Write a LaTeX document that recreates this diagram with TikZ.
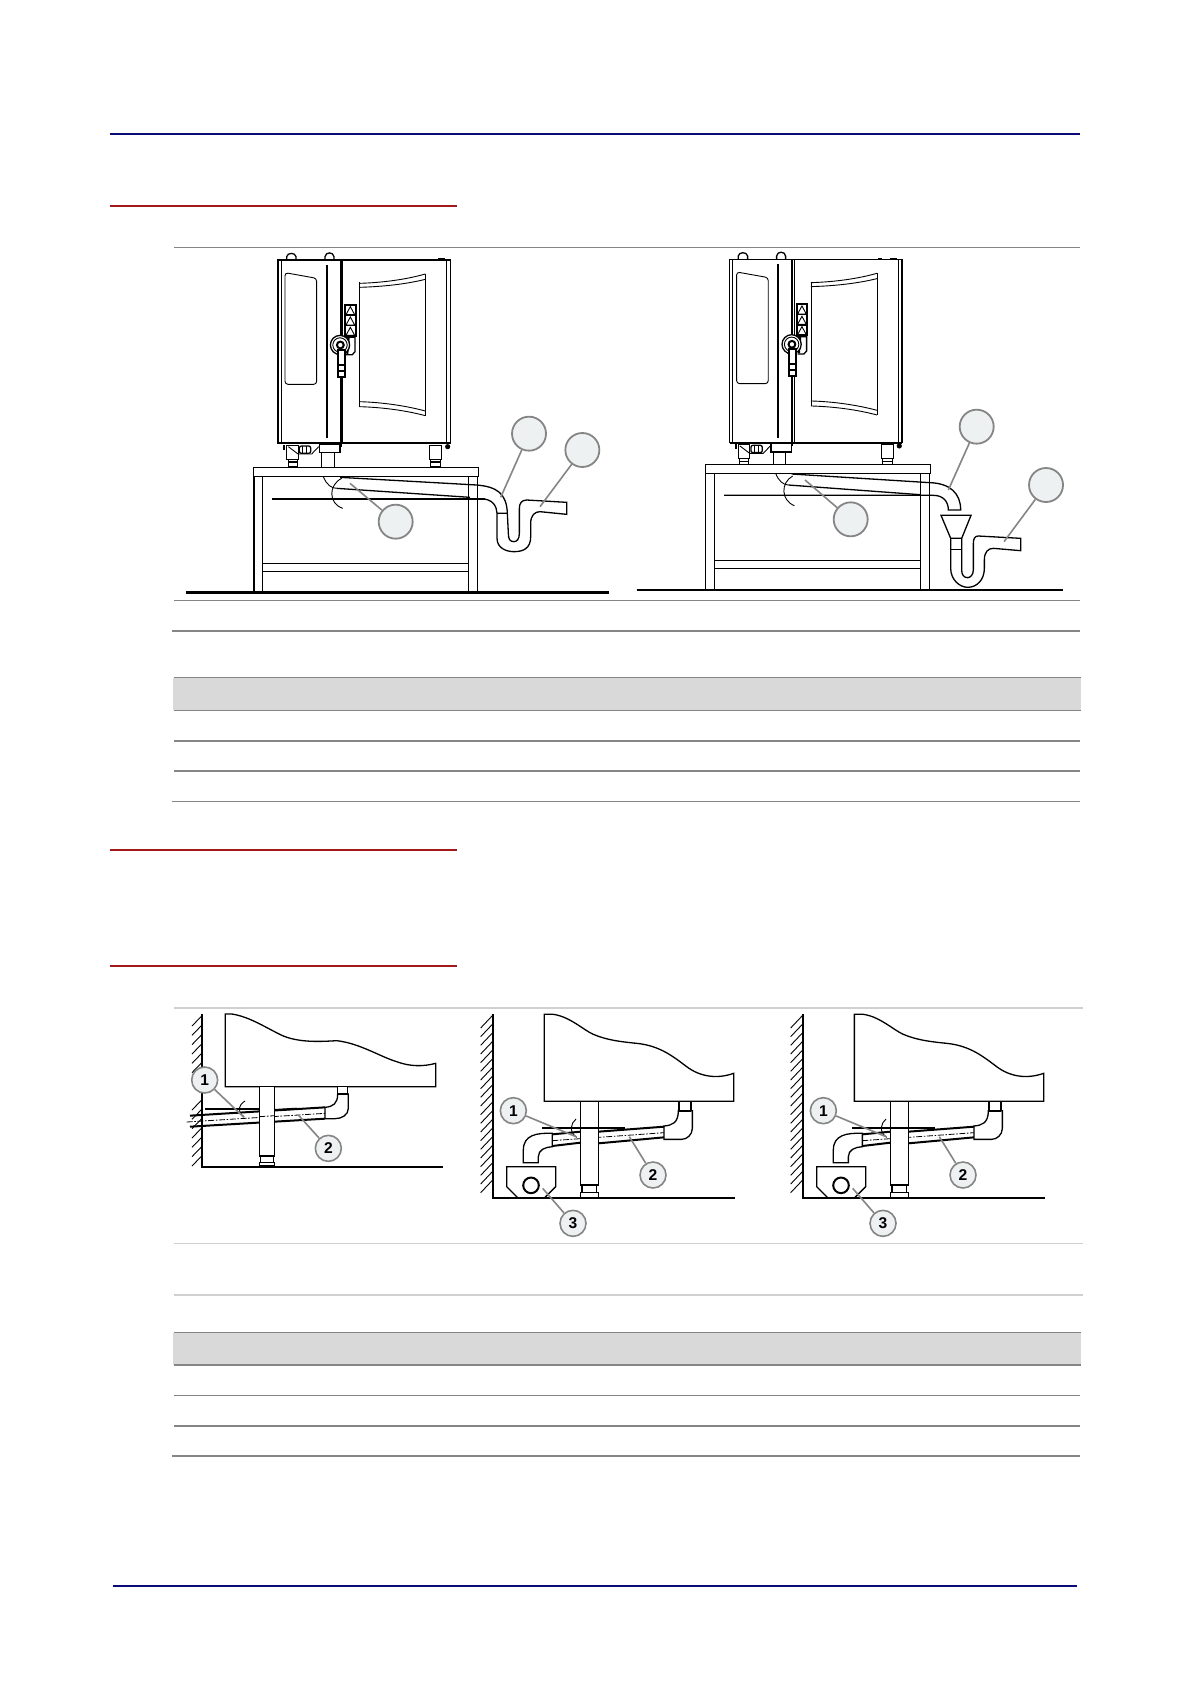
\documentclass[tikz,border=0pt]{standalone}
\usepackage{fontspec}
\setmainfont{Liberation Sans}
\definecolor{navyrule}{HTML}{0A0A78}
\definecolor{redrule}{HTML}{A01818}
\definecolor{greyrule}{HTML}{858585}
\definecolor{lightrule}{HTML}{D0D0D0}
\definecolor{barfill}{HTML}{D9D9D9}
\definecolor{callfill}{HTML}{EEF1F1}
\tikzset{
  zoomgrid/.style={x=0.16667pt,y=-0.16667pt},
  navy/.style={navyrule,line width=1pt},
  redline/.style={redrule,line width=1pt},
  rulethin/.style={greyrule,line width=0.5pt},
  rulethick/.style={greyrule,line width=0.8pt},
  rulelight/.style={lightrule,line width=0.9pt},
  thinl/.style={black,line width=0.45pt},
  midl/.style={black,line width=0.65pt},
  thickl/.style={black,line width=1pt},
  groundl/.style={black,line width=0.85pt},
  bigcall/.style={circle,draw=greyrule,fill=callfill,line width=0.9pt,minimum size=17pt,inner sep=0pt},
  smallcall/.style={circle,draw=greyrule,fill=callfill,line width=0.8pt,minimum size=13pt,inner sep=0pt,font=\fontsize{7.8}{8}\selectfont\bfseries},
  leader/.style={greyrule,line width=0.8pt},
  centre/.style={black,line width=0.4pt,dash pattern=on 3pt off 0.8pt on 0.8pt off 0.8pt},
}
\newcommand{\ovenbody}{%
  \draw[midl] (24,30) rectangle (541,580);
  \draw[thickl] (24,580) -- (541,580);
  \draw[thinl] (33,30) -- (33,580);
  \draw[thinl] (530,30) -- (530,580);
  \draw[thickl] (212,30) -- (212,590);
  \draw[thinl] (218,30) -- (218,580);
  \draw[thickl] (170,45) -- (170,565);
  \draw[thinl,rounded corners=1.5pt] (45,68) -- (140,85) -- (140,403) -- (45,403) -- cycle;
  \draw[midl] (50,30) -- (50,20) .. controls (52,7) and (76,7) .. (78,20) -- (78,30);
  \draw[midl] (165,30) -- (165,20) .. controls (167,5) and (190,5) .. (192,20) -- (192,30);
  \draw[thinl] (470,28) -- (480,28) (505,26) -- (525,26);
  \draw[thinl] (268,97) -- (268,470) (466,72) -- (466,497);
  \draw[thinl] (268,100) .. controls (340,98) and (410,88) .. (466,72);
  \draw[thinl] (268,112) .. controls (340,110) and (410,102) .. (466,88);
  \draw[thinl] (268,455) .. controls (340,457) and (410,468) .. (466,483);
  \draw[thinl] (268,470) .. controls (340,472) and (410,482) .. (466,497);
  \draw[thickl] (225,165) rectangle (257,258);
  \draw[midl] (225,196) -- (257,196) (225,227) -- (257,227);
  \draw[thinl] (228,194) -- (241,170) -- (254,194) -- cycle;
  \draw[thinl] (228,225) -- (241,201) -- (254,225) -- cycle;
  \draw[thinl] (228,256) -- (241,232) -- (254,256) -- cycle;
  \draw[midl] (228,262) -- (255,262) -- (255,305) -- (247,314) -- (228,314);
  \draw[thickl] (236,262) -- (232,312);
  \draw[midl,fill=white] (210,285) circle[radius=4.8pt];
  \draw[thinl] (210,285) circle[radius=3.6pt];
  \draw[thickl,fill=white] (203,300) -- (203,380) -- (224,380) -- (224,300) -- cycle;
  \draw[thickl] (203,345) -- (224,345) (203,362) -- (224,362);
  \draw[thickl,fill=white] (211,285) circle[radius=1.7pt];
  \draw[thinl,fill=white] (50,585) rectangle (84,627);
  \draw[thinl] (54,627) rectangle (81,650);
  \draw[midl] (54,636) -- (81,636);
  \draw[thinl,fill=white] (478,585) rectangle (515,627);
  \draw[thinl] (481,627) rectangle (512,650);
  \draw[midl] (481,636) -- (512,636);
  \draw[midl,fill=white] (148,582) rectangle (210,608);
  \draw[thinl,fill=white] (155,608) rectangle (192,652);
  \draw[thinl] (55,590) -- (84,612) -- (125,612) -- (146,590);
  \draw[midl,rounded corners=1pt] (88,588) rectangle (122,610);
  \draw[thinl] (98,588) -- (98,610) (110,588) -- (110,610);
  \draw[thickl] (42,585) -- (42,600);
  \fill (533,590) circle[radius=1.3pt];
}
\newcommand{\lowerdrain}[1]{%
  \foreach \yy in {46,72,...,540} \draw[thinl] (68,\yy) -- (32,\yy+38);
  \draw[groundl] (68,42) -- (68,593) -- (796,593);
  \draw[midl] (223,304) -- (223,43) -- (250,43) .. controls (300,50) and (340,90) .. (370,103) .. controls (410,120) and (450,125) .. (500,130) .. controls (570,137) and (610,170) .. (650,200) .. controls (690,230) and (740,238) .. (791,220) -- (791,304) -- cycle;
  \draw[thickl] (247,403) -- (331,395) (385,395) -- (582,380);
  \draw[thickl] (247,438) -- (331,428) (385,430) -- (582,412);
  \draw[midl,fill=white] (582,378) .. controls (605,376) and (625,370) .. (625,332) -- (667,332) -- (667,385) .. controls (667,405) and (650,418) .. (635,418) -- (582,418) -- cycle;
  \draw[midl,fill=white] (627,304) rectangle (663,332);
  \draw[thickl] (627,332) -- (663,332);
  \draw[midl,fill=white] (247,400) .. controls (200,398) and (160,405) .. (160,450) -- (160,488) -- (205,488) -- (205,470) .. controls (205,450) and (225,441) .. (247,440) -- cycle;
  \draw[centre] (247,422) -- (582,398);
  \draw[midl,fill=white] (331,304) rectangle (385,555);
  \draw[midl] (336,555) rectangle (380,577);
  \draw[midl] (331,577) -- (385,577) -- (385,593) -- (331,593) -- cycle;
  \draw[thickl] (217,385) -- (465,385);
  \draw[thinl] (318,357) .. controls (302,370) and (296,395) .. (320,412);
  \draw[midl] (142,592) -- (110,560) -- (110,500) -- (257,500) -- (257,560) -- (225,592);
  \draw[thickl] (183,556) circle[radius=3.9pt];
  \node[smallcall] (#1a) at (130,332) {1};
  \node[smallcall] (#1b) at (549,525) {2};
  \node[smallcall] (#1c) at (309,670) {3};
  \coordinate (#1pa) at (318,410);
  \coordinate (#1pb) at (478,410);
  \coordinate (#1pc) at (218,565);
  \draw[leader] (#1a) -- (#1pa);
  \draw[leader] (#1b) -- (#1pb);
  \draw[leader] (#1c) -- (#1pc);
}
\begin{document}
\begin{tikzpicture}[x=0.5pt,y=-0.5pt]
\useasboundingbox (0,0) rectangle (1190,1684);
\fill[white] (0,0) rectangle (1190,1684);
% page rules
\draw[navy] (110,134) -- (1080,134);
\draw[navy] (113,1586) -- (1077,1586);
\draw[redline] (110,206) -- (457,206);
\draw[redline] (110,850) -- (457,850);
\draw[redline] (110,966) -- (457,966);
\draw[rulethin] (174,247.6) -- (1080,247.6);
\draw[rulethin] (174,600) -- (1080,600);
\draw[rulethick] (172,631) -- (1080,631);
\fill[barfill] (173,677.5) rectangle (1081,710);
\draw[rulethick] (174,677.5) -- (1081,677.5);
\draw[rulethin] (174,710) -- (1081,710);
\draw[rulethick] (174,741) -- (1080,741);
\draw[rulethick] (174,771) -- (1080,771);
\draw[rulethin] (172,801) -- (1080,801);
\draw[rulelight] (174,1007.6) -- (1083,1007.6);
\draw[rulelight] (174,1243.5) -- (1083,1243.5);
\draw[rulelight] (174,1295) -- (1083,1295);
\fill[barfill] (173,1332.5) rectangle (1081,1365);
\draw[rulethick] (174,1332.5) -- (1081,1332.5);
\draw[rulethick] (174,1365) -- (1081,1365);
\draw[rulethin] (174,1395) -- (1080,1395);
\draw[rulethick] (174,1426) -- (1080,1426);
\draw[rulethick] (172,1456) -- (1080,1456);
% left oven
\begin{scope}[shift={(270,250)},zoomgrid]
\ovenbody
\end{scope}
\begin{scope}[shift={(160,240)},zoomgrid]
  \draw[midl,fill=white] (281,682) rectangle (955,709);
  \draw[midl] (281,709) -- (281,1057) (307,709) -- (307,1057) (925,709) -- (925,1057) (952,709) -- (952,1057);
  \draw[thickl] (283,709) -- (283,1057);
  \draw[midl] (307,970) -- (925,970) (307,994) -- (925,994);
  \draw[black,line width=1.25pt] (78,1058) -- (1347,1058);
  \draw[thickl] (336,776) -- (975,776);
  \draw[midl] (540,712) -- (950,735) .. controls (1010,740) and (1040,760) .. (1042,820);
  \draw[midl] (530,745) -- (930,772);
  \draw[midl] (960,776) .. controls (1000,776) and (1010,800) .. (1011,820) -- (1011,895) .. controls (1011,925) and (1040,935) .. (1062,935) .. controls (1090,935) and (1112,925) .. (1112,890) -- (1112,850) .. controls (1112,825) and (1125,815) .. (1140,815) -- (1220,823) -- (1220,787) -- (1100,780) .. controls (1085,780) and (1078,790) .. (1078,805) -- (1078,880) .. controls (1078,898) and (1070,905) .. (1062,905) .. controls (1050,905) and (1045,898) .. (1045,880) -- (1042,820) -- (1011,820);
  \draw[thinl] (490,710) .. controls (500,735) and (515,745) .. (530,745);
  \draw[thinl] (545,715) .. controls (505,735) and (505,790) .. (548,805);
  \node[bigcall] (la) at (1107,581) {};
  \node[bigcall] (lb) at (1267,630) {};
  \node[bigcall] (lc) at (707,845) {};
  \coordinate (lpa) at (1022,772);
  \coordinate (lpb) at (1140,800);
  \coordinate (lpc) at (570,730);
  \draw[leader] (la) -- (lpa);
  \draw[leader] (lb) -- (lpb);
  \draw[leader] (lc) -- (lpc);
\end{scope}
% right oven
\begin{scope}[shift={(721.6,249.3)},zoomgrid]
\ovenbody
\end{scope}
\begin{scope}[shift={(640,240)},zoomgrid]
  \draw[midl,fill=white] (197,673) rectangle (871,700);
  \draw[midl] (197,700) -- (197,1047) (223,700) -- (223,1047) (842,700) -- (842,1047) (868,700) -- (868,1047);
  \draw[midl] (223,961) -- (842,961) (223,985) -- (842,985);
  \draw[black,line width=1.25pt] (-10,1050) -- (1268,1050);
  \draw[midl] (252,766) -- (880,766) .. controls (910,766) and (925,785) .. (925,810) -- (962,810) .. controls (962,760) and (930,730) .. (870,728) -- (455,702);
  \draw[midl] (445,735) -- (840,764);
  \draw[midl] (903,826) -- (993,826) -- (965,895) -- (932,895) -- cycle;
  \draw[midl] (932,895) -- (932,985) .. controls (932,1020) and (960,1042) .. (983,1042) .. controls (1010,1042) and (1033,1020) .. (1033,985) -- (1033,960) .. controls (1033,935) and (1045,925) .. (1060,925) -- (1142,932) -- (1142,895) -- (1015,888) .. controls (1005,888) and (1000,895) .. (1000,910) -- (1000,990) .. controls (1000,1005) and (990,1013) .. (983,1013) .. controls (972,1013) and (965,1005) .. (965,990) -- (965,895);
  \draw[midl] (932,928) -- (965,928);
  \draw[thinl] (407,700) .. controls (415,722) and (430,735) .. (445,735);
  \draw[thinl] (458,708) .. controls (422,728) and (422,780) .. (463,797);
  \node[bigcall] (ra) at (1010,560) {};
  \node[bigcall] (rb) at (1218,735) {};
  \node[bigcall] (rc) at (632,838) {};
  \coordinate (rpa) at (925,750);
  \coordinate (rpb) at (1092,905);
  \coordinate (rpc) at (495,720);
  \draw[leader] (ra) -- (rpa);
  \draw[leader] (rb) -- (rpb);
  \draw[leader] (rc) -- (rpc);
\end{scope}
% lower first drawing
\begin{scope}[shift={(170,1000)},zoomgrid]
  \foreach \yy in {48,76,...,216,300,328,356,384,412,440,468} \draw[thinl] (95,\yy) -- (66,\yy+30);
  \draw[groundl] (95,42) -- (95,500) -- (818,500);
  \draw[midl] (166,260) -- (166,42) -- (185,42) .. controls (240,50) and (290,85) .. (340,108) .. controls (390,128) and (450,125) .. (500,122) .. controls (570,130) and (630,170) .. (680,185) .. controls (720,200) and (760,200) .. (797,190) -- (797,260) -- cycle;
  \draw[thickl] (60,347) -- (465,322);
  \draw[thickl] (60,380) -- (465,356);
  \draw[midl,fill=white] (465,322) .. controls (490,320) and (503,310) .. (503,282) -- (535,282) -- (535,325) .. controls (535,345) and (515,356) .. (495,356) -- (465,356) -- cycle;
  \draw[midl,fill=white] (503,260) rectangle (533,282);
  \draw[thickl] (503,282) -- (533,282);
  \draw[centre] (50,366) -- (465,340);
  \draw[thickl] (105,326) -- (268,326);
  \draw[midl,fill=white] (268,260) rectangle (313,468);
  \draw[centre] (268,350) -- (313,347);
  \draw[thickl] (313,330) -- (380,326);
  \draw[midl] (272,468) rectangle (310,488);
  \draw[midl] (268,488) -- (313,488) -- (313,498) -- (268,498) -- cycle;
  \draw[thinl] (225,303) .. controls (205,315) and (200,335) .. (222,350);
  \node[smallcall] (da) at (104,240) {1};
  \node[smallcall] (db) at (475,445) {2};
  \coordinate (dpa) at (222,352);
  \coordinate (dpb) at (385,345);
  \draw[leader] (da) -- (dpa);
  \draw[leader] (db) -- (dpb);
\end{scope}
\begin{scope}[shift={(470,1000)},zoomgrid]
\lowerdrain{e}
\end{scope}
\begin{scope}[shift={(780,1000)},zoomgrid]
\lowerdrain{f}
\end{scope}
\end{tikzpicture}
\end{document}
